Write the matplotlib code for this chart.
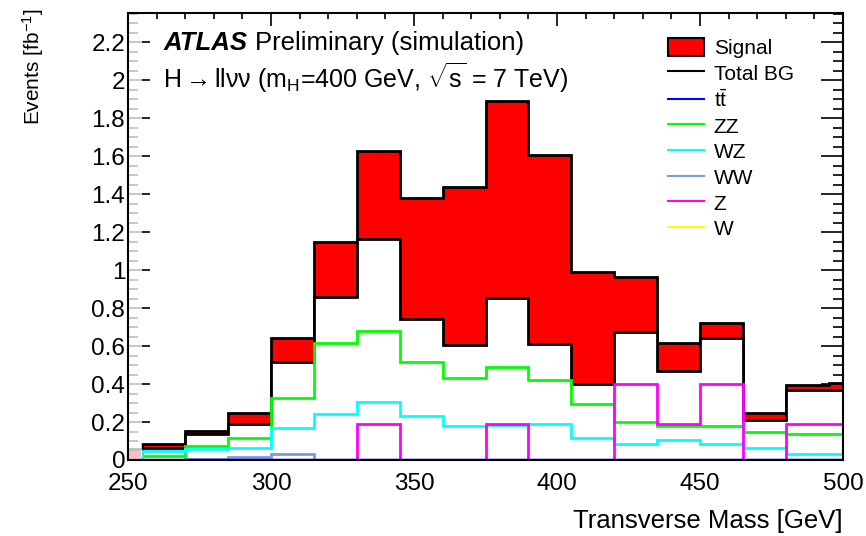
import matplotlib
matplotlib.use("Agg")
import matplotlib.pyplot as plt
from matplotlib.ticker import MultipleLocator, FuncFormatter
from matplotlib.patches import Patch
from matplotlib.lines import Line2D
import numpy as np

plt.rcParams['font.family'] = ['Liberation Sans', 'DejaVu Sans']
plt.rcParams['mathtext.fontset'] = 'custom'
plt.rcParams['mathtext.rm'] = 'Liberation Sans'
plt.rcParams['mathtext.it'] = 'Liberation Sans:italic'
plt.rcParams['mathtext.bf'] = 'Liberation Sans:bold'

# ---- data (bin edges in GeV, values in events / fb^-1) ----
bin_edges = [240, 255, 270, 285, 300, 315, 330, 345, 360, 375, 390,
             405, 420, 435, 450, 465, 480, 495, 510]
signal_plus_bg = [0.058, 0.084, 0.155, 0.249, 0.644, 1.149, 1.628, 1.379, 1.439,
                  1.888, 1.605, 0.991, 0.961, 0.617, 0.719, 0.249, 0.396, 0.407]
total_bg = [0.0, 0.065, 0.137, 0.190, 0.514, 0.856, 1.163, 0.742, 0.605,
            0.854, 0.610, 0.400, 0.675, 0.470, 0.644, 0.210, 0.368, 0.368]
ttbar = [0.0] * 18
zz = [0.0, 0.023, 0.074, 0.117, 0.325, 0.617, 0.679, 0.514, 0.430,
      0.491, 0.421, 0.296, 0.198, 0.180, 0.179, 0.148, 0.138, 0.138]
wz = [0.0, 0.047, 0.060, 0.065, 0.167, 0.243, 0.303, 0.233, 0.180,
      0.182, 0.189, 0.117, 0.085, 0.104, 0.086, 0.065, 0.033, 0.033]
ww = [0.0, 0.0, 0.005, 0.018, 0.034, 0.0, 0.0, 0.0, 0.0,
      0.0, 0.0, 0.0, 0.0, 0.0, 0.0, 0.0, 0.0, 0.0]
z_jets = [0.0, 0.0, 0.0, 0.0, 0.0, 0.0, 0.19, 0.0, 0.0,
          0.19, 0.0, 0.0, 0.40, 0.19, 0.40, 0.0, 0.19, 0.19]
w_jets = [0.0] * 18

legend_labels = ["Signal", "Total BG", r"t$\bar{\rm t}$", "ZZ", "WZ", "WW", "Z", "W"]
colors = {"tt": "#0000ff", "zz": "#00ff00", "wz": "#00ffff", "ww": "#7b9be0",
          "z": "#ff00ff", "w": "#ffff00"}

fig = plt.figure(figsize=(8.66, 5.36), dpi=100)
ax = fig.add_axes([128/866, 1-460/536, 715/866, 447/536])

ax.stairs(signal_plus_bg, bin_edges, fill=True, facecolor="#ff0000",
          edgecolor="black", linewidth=2, zorder=2)
ax.stairs(total_bg, bin_edges, fill=True, facecolor="white",
          edgecolor="black", linewidth=2, zorder=3)
ax.stairs(w_jets, bin_edges, color=colors["w"], linewidth=2, zorder=4)
ax.stairs(zz, bin_edges, color=colors["zz"], linewidth=2, zorder=5)
ax.stairs(wz, bin_edges, color=colors["wz"], linewidth=2, zorder=5)
ax.stairs(ww, bin_edges, color=colors["ww"], linewidth=2, zorder=5)
ax.stairs(z_jets, bin_edges, color=colors["z"], linewidth=2, zorder=6)
ax.stairs(ttbar, bin_edges, color=colors["tt"], linewidth=2.5, zorder=7)
# faded first (clipped) bin as in the original rendering
ax.axvspan(250, 255, color="white", alpha=0.75, zorder=8, lw=0)

ax.set_xlim(250, 500)
ax.set_ylim(0, 2.353)

ax.xaxis.set_major_locator(MultipleLocator(50))
ax.xaxis.set_minor_locator(MultipleLocator(10))
ax.yaxis.set_major_locator(MultipleLocator(0.2))
ax.yaxis.set_minor_locator(MultipleLocator(0.05))
ax.yaxis.set_major_formatter(FuncFormatter(lambda v, p: "%g" % round(v, 3)))
ax.tick_params(axis="both", which="both", direction="in", top=True, right=True,
               labelsize=17.5, width=1.2)
ax.tick_params(axis="x", which="major", length=9, pad=9)
ax.tick_params(axis="x", which="minor", length=4.5)
ax.tick_params(axis="y", which="major", length=16, pad=2)
ax.tick_params(axis="y", which="minor", length=7.5)
for s in ax.spines.values():
    s.set_linewidth(1.5)
    s.set_zorder(10)

ax.set_xlabel("Transverse Mass [GeV]", fontsize=18.5, loc="right")
ax.xaxis.set_label_coords(1.0, -0.11)
ax.set_ylabel(r"Events [fb$^{-1}$]", fontsize=15, loc="top")
ax.yaxis.set_label_coords(-0.115, 1.01)

atlas = ax.text(0.049, 0.933, "ATLAS", transform=ax.transAxes, fontsize=18.5,
                fontweight="bold", fontstyle="italic", va="center", ha="left", zorder=11)
ax.annotate("Preliminary (simulation)", xy=(1.0, 0.5), xycoords=atlas,
            xytext=(6, 0), textcoords="offset points", fontsize=18.5,
            va="center", ha="left", zorder=11)
ax.text(0.049, 0.855,
        "H$\\rightarrow$ll\u03bd\u03bd (m$_{\\rm H}$=400 GeV, $\\sqrt{\\rm s}$ = 7 TeV)",
        transform=ax.transAxes, fontsize=18, va="center", ha="left", zorder=11)

handles = [Patch(facecolor="#ff0000", edgecolor="black", linewidth=1.5),
           Line2D([], [], color="black", lw=1.5),
           Line2D([], [], color=colors["tt"], lw=1.5),
           Line2D([], [], color=colors["zz"], lw=1.5),
           Line2D([], [], color=colors["wz"], lw=1.5),
           Line2D([], [], color=colors["ww"], lw=1.5),
           Line2D([], [], color=colors["z"], lw=1.5),
           Line2D([], [], color=colors["w"], lw=1.5)]
leg = ax.legend(handles, legend_labels, loc="upper left",
                bbox_to_anchor=(0.755, 0.945), frameon=False, fontsize=15,
                handlelength=1.75, handleheight=1.0, handletextpad=0.45,
                labelspacing=0.25, borderpad=0, borderaxespad=0)
leg.set_zorder(12)

fig.savefig("out.png", dpi=100)
